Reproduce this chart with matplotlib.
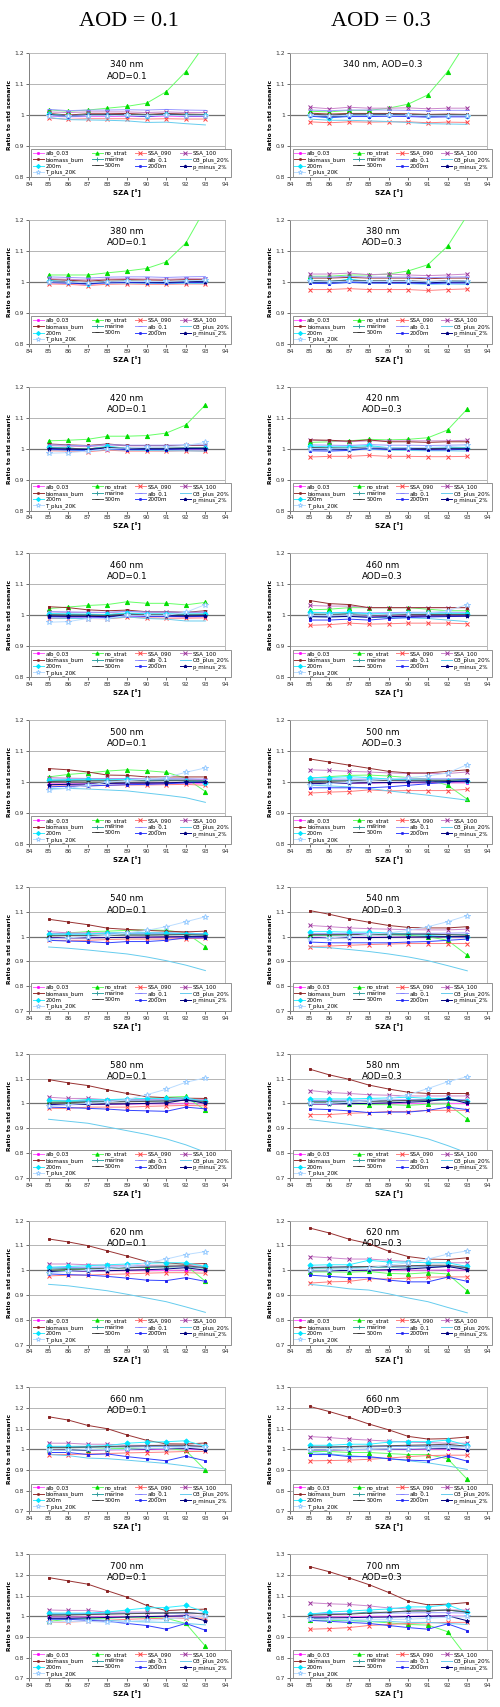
import matplotlib.pyplot as plt

# SZA values used in every panel
sza = [85, 86, 87, 88, 89, 90, 91, 92, 93]

series = ["alb_0.03", "no_strat", "SSA_090", "SSA_100", "biomass_burn", "marine",
          "alb_0.1", "O3_plus_20%", "200m", "500m", "2000m", "p_minus_2%", "T_plus_20K"]

wavelengths = [340, 380, 420, 460, 500, 540, 580, 620, 660, 700]
aods = [0.1, 0.3]

# one table per panel: rows follow the order of `series`
w340_a01 = [
    [0.996, 0.994, 0.995, 0.995, 0.996, 0.995, 0.996, 0.995, 0.995],
    [1.017, 1.012, 1.016, 1.022, 1.028, 1.038, 1.075, 1.140, 1.230],
    [0.990, 0.986, 0.988, 0.988, 0.988, 0.987, 0.988, 0.987, 0.987],
    [1.010, 1.008, 1.010, 1.010, 1.010, 1.008, 1.010, 1.008, 1.008],
    [1.005, 1.000, 1.004, 1.004, 1.005, 1.002, 1.005, 1.003, 1.002],
    [1.002, 0.998, 1.000, 1.001, 1.001, 1.000, 1.002, 1.000, 1.000],
    [1.018, 1.014, 1.016, 1.016, 1.017, 1.016, 1.018, 1.016, 1.015],
    [0.992, 0.985, 0.984, 0.983, 0.981, 0.976, 0.977, 0.972, 0.968],
    [1.003, 0.997, 1.000, 1.000, 1.000, 0.998, 1.002, 1.000, 0.999],
    [1.001, 0.998, 1.001, 1.001, 1.002, 1.000, 1.003, 1.001, 1.000],
    [0.999, 0.995, 0.998, 0.998, 0.998, 0.996, 0.999, 0.997, 0.997],
    [1.000, 0.996, 0.999, 0.999, 0.999, 0.997, 1.000, 0.998, 0.998],
    [0.998, 0.996, 0.998, 0.998, 0.999, 0.998, 0.999, 0.998, 0.998],
]
w340_a03 = [
    [0.998, 0.996, 0.998, 0.998, 0.998, 0.997, 0.996, 0.997, 0.997],
    [1.012, 1.010, 1.015, 1.015, 1.022, 1.035, 1.065, 1.140, 1.240],
    [0.978, 0.975, 0.978, 0.977, 0.978, 0.978, 0.975, 0.977, 0.976],
    [1.025, 1.020, 1.025, 1.022, 1.022, 1.023, 1.020, 1.022, 1.022],
    [1.006, 1.003, 1.005, 1.005, 1.005, 1.004, 1.002, 1.003, 1.002],
    [1.002, 0.998, 1.001, 1.001, 1.002, 1.001, 0.999, 1.000, 1.000],
    [1.016, 1.014, 1.016, 1.016, 1.016, 1.015, 1.014, 1.015, 1.015],
    [0.987, 0.983, 0.983, 0.981, 0.979, 0.976, 0.972, 0.971, 0.970],
    [1.000, 0.990, 0.998, 0.998, 1.000, 1.000, 0.996, 0.998, 0.998],
    [1.003, 1.000, 1.003, 1.003, 1.003, 1.002, 1.000, 1.001, 1.000],
    [0.996, 0.992, 0.995, 0.995, 0.996, 0.995, 0.993, 0.994, 0.994],
    [1.000, 0.995, 0.999, 0.999, 1.000, 0.999, 0.997, 0.998, 0.998],
    [0.999, 0.997, 0.999, 0.999, 0.999, 0.999, 0.998, 0.998, 0.998],
]
w380_a01 = [
    [0.997, 0.995, 0.992, 0.996, 0.997, 0.996, 0.996, 0.997, 0.997],
    [1.022, 1.022, 1.022, 1.029, 1.035, 1.043, 1.064, 1.125, 1.237],
    [0.993, 0.992, 0.988, 0.992, 0.993, 0.992, 0.992, 0.993, 0.993],
    [1.010, 1.008, 1.006, 1.009, 1.010, 1.009, 1.008, 1.010, 1.010],
    [1.007, 1.005, 1.002, 1.006, 1.007, 1.006, 1.005, 1.007, 1.007],
    [1.002, 1.000, 0.997, 1.001, 1.002, 1.001, 1.000, 1.002, 1.002],
    [1.016, 1.014, 1.012, 1.015, 1.016, 1.016, 1.014, 1.016, 1.017],
    [0.998, 0.996, 0.993, 0.996, 0.996, 0.995, 0.994, 0.995, 0.994],
    [1.004, 1.000, 0.994, 1.000, 1.001, 1.000, 0.999, 1.001, 1.001],
    [1.002, 1.000, 0.996, 1.001, 1.002, 1.001, 1.000, 1.002, 1.002],
    [0.998, 0.996, 0.993, 0.997, 0.998, 0.997, 0.996, 0.998, 0.998],
    [1.000, 0.998, 0.995, 0.999, 1.000, 0.999, 0.998, 1.000, 1.000],
    [1.000, 0.999, 0.997, 1.000, 1.001, 1.001, 1.001, 1.003, 1.005],
]
w380_a03 = [
    [0.999, 0.997, 1.000, 0.998, 0.998, 0.998, 0.996, 0.998, 0.998],
    [1.018, 1.018, 1.022, 1.022, 1.025, 1.035, 1.055, 1.115, 1.215],
    [0.975, 0.975, 0.978, 0.975, 0.975, 0.975, 0.972, 0.975, 0.977],
    [1.025, 1.025, 1.028, 1.023, 1.025, 1.022, 1.020, 1.022, 1.025],
    [1.012, 1.012, 1.014, 1.012, 1.012, 1.012, 1.010, 1.012, 1.012],
    [1.003, 1.001, 1.006, 1.002, 1.002, 1.002, 1.000, 1.002, 1.002],
    [1.016, 1.015, 1.018, 1.015, 1.015, 1.015, 1.013, 1.015, 1.016],
    [0.998, 0.996, 0.998, 0.996, 0.995, 0.994, 0.992, 0.993, 0.992],
    [1.005, 1.000, 1.008, 1.002, 1.001, 1.001, 0.998, 1.000, 1.000],
    [1.004, 1.002, 1.005, 1.003, 1.003, 1.003, 1.001, 1.003, 1.003],
    [0.995, 0.994, 0.998, 0.996, 0.996, 0.996, 0.994, 0.996, 0.996],
    [0.999, 0.998, 1.002, 0.999, 0.999, 0.999, 0.997, 0.999, 0.999],
    [1.001, 1.000, 1.002, 1.001, 1.001, 1.001, 1.000, 1.002, 1.003],
]
w420_a01 = [
    [0.996, 0.995, 0.993, 0.997, 0.995, 0.995, 0.995, 0.996, 0.996],
    [1.025, 1.027, 1.030, 1.040, 1.040, 1.042, 1.050, 1.076, 1.141],
    [0.993, 0.992, 0.990, 0.995, 0.992, 0.992, 0.992, 0.993, 0.992],
    [1.010, 1.008, 1.006, 1.012, 1.009, 1.009, 1.009, 1.010, 1.010],
    [1.015, 1.012, 1.010, 1.015, 1.010, 1.010, 1.010, 1.010, 1.010],
    [1.003, 1.001, 0.999, 1.005, 1.001, 1.001, 1.001, 1.002, 1.002],
    [1.012, 1.011, 1.009, 1.013, 1.011, 1.011, 1.011, 1.012, 1.012],
    [0.996, 0.995, 0.993, 0.997, 0.995, 0.994, 0.993, 0.993, 0.992],
    [1.005, 1.002, 0.998, 1.008, 1.001, 1.000, 1.000, 1.002, 1.002],
    [1.002, 1.001, 0.999, 1.004, 1.001, 1.001, 1.001, 1.002, 1.002],
    [0.998, 0.996, 0.995, 1.000, 0.997, 0.997, 0.997, 0.999, 0.999],
    [1.000, 0.998, 0.997, 1.002, 0.999, 0.999, 0.999, 1.000, 1.000],
    [0.985, 0.987, 0.992, 1.000, 1.002, 1.004, 1.006, 1.010, 1.020],
]
w420_a03 = [
    [0.998, 0.997, 0.996, 0.999, 0.997, 0.997, 0.996, 0.997, 0.997],
    [1.020, 1.022, 1.025, 1.030, 1.028, 1.030, 1.035, 1.060, 1.128],
    [0.973, 0.975, 0.975, 0.978, 0.975, 0.975, 0.974, 0.974, 0.975],
    [1.028, 1.025, 1.022, 1.025, 1.025, 1.025, 1.025, 1.025, 1.027],
    [1.028, 1.027, 1.024, 1.028, 1.022, 1.022, 1.020, 1.022, 1.022],
    [1.004, 1.002, 1.002, 1.006, 1.002, 1.002, 1.001, 1.002, 1.002],
    [1.012, 1.011, 1.010, 1.013, 1.011, 1.011, 1.010, 1.011, 1.012],
    [0.997, 0.996, 0.995, 0.998, 0.995, 0.994, 0.993, 0.993, 0.992],
    [1.008, 1.006, 1.006, 1.010, 1.003, 1.003, 1.002, 1.002, 1.003],
    [1.003, 1.002, 1.001, 1.004, 1.001, 1.001, 1.000, 1.001, 1.001],
    [0.993, 0.992, 0.994, 1.000, 0.997, 0.998, 0.996, 0.996, 0.998],
    [0.998, 0.997, 0.997, 1.002, 0.999, 0.999, 0.998, 0.999, 0.999],
    [1.000, 0.999, 1.000, 1.003, 1.002, 1.003, 1.004, 1.006, 1.010],
]
w460_a01 = [
    [0.996, 0.995, 0.995, 0.994, 0.998, 0.996, 0.996, 0.995, 0.996],
    [1.022, 1.027, 1.032, 1.035, 1.044, 1.039, 1.039, 1.034, 1.042],
    [0.990, 0.990, 0.990, 0.989, 0.994, 0.992, 0.991, 0.991, 0.992],
    [1.012, 1.010, 1.010, 1.009, 1.013, 1.010, 1.010, 1.009, 1.010],
    [1.028, 1.025, 1.018, 1.015, 1.017, 1.012, 1.012, 1.010, 1.015],
    [1.004, 1.003, 1.003, 1.002, 1.006, 1.004, 1.004, 1.003, 1.004],
    [1.012, 1.011, 1.010, 1.010, 1.013, 1.011, 1.011, 1.010, 1.011],
    [0.992, 0.990, 0.990, 0.990, 0.995, 0.990, 0.988, 0.982, 0.982],
    [1.006, 1.005, 1.004, 1.003, 1.008, 1.005, 1.005, 1.005, 1.005],
    [1.002, 1.001, 1.001, 1.000, 1.004, 1.002, 1.002, 1.001, 1.002],
    [0.996, 0.995, 0.995, 0.994, 0.999, 0.997, 0.997, 0.996, 0.997],
    [0.998, 0.997, 0.997, 0.996, 1.001, 0.999, 0.999, 0.998, 0.999],
    [0.978, 0.980, 0.990, 0.990, 1.000, 1.000, 1.000, 1.010, 1.035],
]
w460_a03 = [
    [0.998, 0.997, 0.998, 0.996, 0.998, 0.998, 0.998, 0.998, 0.998],
    [1.018, 1.020, 1.025, 1.025, 1.025, 1.025, 1.020, 1.015, 1.015],
    [0.968, 0.970, 0.975, 0.972, 0.973, 0.975, 0.975, 0.975, 0.973],
    [1.032, 1.030, 1.030, 1.025, 1.025, 1.025, 1.025, 1.025, 1.025],
    [1.048, 1.038, 1.035, 1.025, 1.025, 1.025, 1.025, 1.025, 1.025],
    [1.005, 1.004, 1.006, 1.003, 1.003, 1.004, 1.004, 1.004, 1.004],
    [1.010, 1.009, 1.010, 1.008, 1.009, 1.010, 1.010, 1.010, 1.010],
    [0.996, 0.995, 0.996, 0.994, 0.993, 0.992, 0.990, 0.985, 0.980],
    [1.010, 1.008, 1.010, 1.005, 1.006, 1.007, 1.007, 1.007, 1.006],
    [1.003, 1.002, 1.004, 1.001, 1.002, 1.003, 1.003, 1.003, 1.003],
    [0.985, 0.985, 0.988, 0.985, 0.990, 0.993, 0.995, 0.996, 0.998],
    [0.996, 0.995, 0.997, 0.994, 0.996, 0.997, 0.998, 0.998, 0.998],
    [1.000, 1.000, 1.001, 1.002, 1.004, 1.006, 1.008, 1.015, 1.035],
]
w500_a01 = [
    [0.995, 0.995, 0.995, 0.996, 0.996, 0.996, 0.997, 0.997, 0.995],
    [1.017, 1.025, 1.030, 1.036, 1.040, 1.037, 1.032, 1.013, 0.970],
    [0.988, 0.988, 0.988, 0.990, 0.991, 0.991, 0.992, 0.993, 0.990],
    [1.015, 1.013, 1.012, 1.012, 1.012, 1.010, 1.010, 1.010, 1.008],
    [1.044, 1.040, 1.033, 1.023, 1.022, 1.017, 1.017, 1.017, 1.017],
    [1.005, 1.006, 1.006, 1.006, 1.007, 1.006, 1.007, 1.007, 1.005],
    [1.010, 1.010, 1.010, 1.010, 1.011, 1.010, 1.011, 1.011, 1.010],
    [0.980, 0.980, 0.978, 0.975, 0.972, 0.965, 0.958, 0.950, 0.935],
    [1.007, 1.008, 1.010, 1.008, 1.009, 1.006, 1.006, 1.005, 0.998],
    [1.002, 1.003, 1.004, 1.004, 1.005, 1.004, 1.005, 1.005, 1.003],
    [0.985, 0.987, 0.988, 0.990, 0.992, 0.993, 0.995, 0.998, 1.000],
    [0.992, 0.993, 0.994, 0.996, 0.997, 0.997, 0.998, 1.000, 1.000],
    [0.975, 0.980, 0.990, 1.000, 1.005, 1.010, 1.015, 1.032, 1.046],
]
w500_a03 = [
    [0.996, 0.996, 0.997, 0.997, 0.998, 0.998, 0.998, 0.998, 0.998],
    [1.013, 1.018, 1.022, 1.023, 1.020, 1.015, 1.010, 0.990, 0.945],
    [0.965, 0.968, 0.970, 0.975, 0.972, 0.973, 0.973, 0.973, 0.977],
    [1.040, 1.038, 1.035, 1.033, 1.030, 1.028, 1.028, 1.028, 1.033],
    [1.075, 1.065, 1.055, 1.045, 1.035, 1.030, 1.030, 1.035, 1.040],
    [1.005, 1.006, 1.006, 1.007, 1.007, 1.007, 1.007, 1.007, 1.008],
    [1.010, 1.010, 1.010, 1.010, 1.011, 1.011, 1.011, 1.011, 1.012],
    [0.990, 0.988, 0.985, 0.980, 0.972, 0.965, 0.958, 0.950, 0.942],
    [1.015, 1.015, 1.018, 1.015, 1.010, 1.008, 1.005, 1.005, 1.005],
    [1.002, 1.003, 1.004, 1.005, 1.006, 1.006, 1.006, 1.006, 1.008],
    [0.982, 0.982, 0.982, 0.982, 0.985, 0.990, 0.995, 1.000, 1.005],
    [0.995, 0.996, 0.997, 0.998, 0.999, 1.000, 1.001, 1.002, 1.003],
    [0.990, 0.995, 1.000, 1.005, 1.010, 1.015, 1.020, 1.030, 1.057],
]
w540_a01 = [
    [0.995, 0.995, 0.996, 0.996, 0.997, 0.997, 0.998, 0.998, 0.997],
    [1.010, 1.015, 1.020, 1.022, 1.025, 1.027, 1.025, 1.015, 0.960],
    [0.985, 0.985, 0.985, 0.988, 0.990, 0.990, 0.990, 0.992, 0.993],
    [1.020, 1.015, 1.015, 1.015, 1.015, 1.015, 1.015, 1.015, 1.010],
    [1.070, 1.059, 1.048, 1.034, 1.029, 1.025, 1.022, 1.019, 1.022],
    [1.005, 1.006, 1.006, 1.006, 1.007, 1.007, 1.008, 1.008, 1.006],
    [1.012, 1.012, 1.012, 1.012, 1.013, 1.013, 1.013, 1.013, 1.012],
    [0.958, 0.953, 0.946, 0.938, 0.930, 0.918, 0.903, 0.885, 0.863],
    [1.010, 1.010, 1.010, 1.015, 1.015, 1.015, 1.015, 1.012, 1.010],
    [1.003, 1.004, 1.004, 1.005, 1.006, 1.006, 1.007, 1.008, 1.006],
    [0.985, 0.982, 0.980, 0.975, 0.980, 0.980, 0.985, 0.995, 0.995],
    [0.995, 0.995, 0.995, 0.996, 0.997, 0.998, 0.999, 1.000, 1.000],
    [0.990, 0.995, 1.000, 1.005, 1.015, 1.025, 1.040, 1.060, 1.080],
]
w540_a03 = [
    [0.997, 0.997, 0.997, 0.998, 0.998, 0.998, 0.999, 0.999, 0.998],
    [1.005, 1.005, 1.008, 1.010, 1.008, 1.005, 1.000, 0.985, 0.925],
    [0.960, 0.962, 0.965, 0.968, 0.970, 0.972, 0.972, 0.972, 0.972],
    [1.045, 1.040, 1.035, 1.032, 1.030, 1.028, 1.027, 1.027, 1.030],
    [1.105, 1.090, 1.072, 1.058, 1.045, 1.037, 1.035, 1.035, 1.040],
    [1.006, 1.006, 1.007, 1.007, 1.007, 1.008, 1.008, 1.008, 1.008],
    [1.012, 1.012, 1.012, 1.013, 1.013, 1.013, 1.013, 1.014, 1.015],
    [0.958, 0.955, 0.948, 0.940, 0.930, 0.918, 0.903, 0.883, 0.862],
    [1.020, 1.020, 1.018, 1.018, 1.015, 1.010, 1.005, 1.000, 1.000],
    [1.008, 1.008, 1.008, 1.009, 1.010, 1.010, 1.010, 1.008, 1.005],
    [0.978, 0.975, 0.975, 0.975, 0.975, 0.978, 0.980, 0.985, 0.990],
    [0.995, 0.995, 0.996, 0.996, 0.997, 0.998, 0.999, 1.000, 1.000],
    [0.990, 0.995, 1.000, 1.010, 1.015, 1.025, 1.040, 1.060, 1.085],
]
w580_a01 = [
    [0.995, 0.995, 0.996, 0.996, 0.997, 0.998, 0.998, 0.999, 0.998],
    [1.010, 1.008, 1.015, 1.012, 1.015, 1.020, 1.025, 1.028, 0.972],
    [0.980, 0.980, 0.985, 0.985, 0.985, 0.988, 0.990, 0.992, 0.990],
    [1.025, 1.020, 1.020, 1.015, 1.015, 1.015, 1.015, 1.015, 1.015],
    [1.096, 1.083, 1.072, 1.055, 1.040, 1.027, 1.023, 1.021, 1.020],
    [1.005, 1.006, 1.008, 1.008, 1.009, 1.010, 1.010, 1.012, 1.005],
    [1.012, 1.012, 1.012, 1.013, 1.013, 1.014, 1.014, 1.015, 1.012],
    [0.936, 0.928, 0.920, 0.905, 0.890, 0.875, 0.857, 0.833, 0.803],
    [1.012, 1.010, 1.015, 1.015, 1.018, 1.020, 1.020, 1.022, 1.008],
    [1.002, 1.003, 1.005, 1.006, 1.007, 1.008, 1.010, 1.012, 1.008],
    [0.985, 0.983, 0.980, 0.977, 0.972, 0.970, 0.968, 0.985, 0.978],
    [0.995, 0.995, 0.996, 0.997, 0.998, 1.000, 1.002, 1.015, 1.000],
    [0.990, 0.995, 1.000, 1.005, 1.015, 1.035, 1.057, 1.085, 1.103],
]
w580_a03 = [
    [0.997, 0.997, 0.998, 0.998, 0.999, 0.999, 1.000, 1.000, 0.999],
    [1.000, 1.000, 0.998, 0.995, 0.995, 0.992, 0.997, 0.998, 0.937],
    [0.955, 0.955, 0.960, 0.963, 0.967, 0.967, 0.972, 0.972, 0.972],
    [1.052, 1.044, 1.040, 1.035, 1.033, 1.030, 1.030, 1.030, 1.030],
    [1.138, 1.115, 1.097, 1.074, 1.058, 1.045, 1.040, 1.040, 1.040],
    [1.008, 1.008, 1.009, 1.010, 1.010, 1.011, 1.012, 1.012, 1.010],
    [1.012, 1.012, 1.013, 1.013, 1.014, 1.015, 1.015, 1.016, 1.015],
    [0.935, 0.925, 0.915, 0.903, 0.890, 0.875, 0.857, 0.830, 0.800],
    [1.018, 1.018, 1.018, 1.020, 1.022, 1.025, 1.020, 1.020, 1.008],
    [1.005, 1.005, 1.006, 1.008, 1.010, 1.012, 1.014, 1.016, 1.010],
    [0.978, 0.975, 0.970, 0.963, 0.965, 0.965, 0.972, 0.985, 0.975],
    [0.998, 0.998, 0.999, 1.000, 1.002, 1.005, 1.008, 1.020, 1.000],
    [1.000, 1.000, 1.005, 1.010, 1.020, 1.035, 1.060, 1.087, 1.108],
]
w620_a01 = [
    [0.995, 0.996, 0.996, 0.997, 0.998, 0.998, 0.999, 1.000, 0.999],
    [0.995, 1.000, 1.005, 1.008, 1.010, 1.015, 1.020, 1.020, 0.955],
    [0.977, 0.980, 0.980, 0.983, 0.985, 0.988, 0.990, 0.990, 0.988],
    [1.025, 1.025, 1.022, 1.020, 1.020, 1.020, 1.020, 1.020, 1.015],
    [1.126, 1.114, 1.099, 1.078, 1.057, 1.035, 1.030, 1.024, 1.027],
    [1.005, 1.007, 1.008, 1.009, 1.010, 1.012, 1.013, 1.014, 1.008],
    [1.010, 1.011, 1.012, 1.013, 1.013, 1.014, 1.015, 1.015, 1.012],
    [0.943, 0.937, 0.927, 0.917, 0.903, 0.888, 0.873, 0.852, 0.830],
    [1.012, 1.015, 1.018, 1.022, 1.025, 1.028, 1.030, 1.030, 1.015],
    [1.000, 1.003, 1.005, 1.007, 1.010, 1.012, 1.015, 1.018, 1.010],
    [0.985, 0.982, 0.980, 0.975, 0.968, 0.960, 0.958, 0.970, 0.955],
    [0.995, 0.996, 0.997, 0.998, 1.000, 1.002, 1.005, 1.010, 1.000],
    [0.990, 0.995, 1.000, 1.005, 1.015, 1.030, 1.045, 1.063, 1.075],
]
w620_a03 = [
    [0.997, 0.997, 0.998, 0.999, 0.999, 1.000, 1.000, 1.001, 1.000],
    [0.993, 0.993, 0.992, 0.995, 0.987, 0.985, 0.990, 0.985, 0.917],
    [0.948, 0.953, 0.955, 0.965, 0.965, 0.968, 0.972, 0.973, 0.973],
    [1.055, 1.050, 1.045, 1.045, 1.040, 1.035, 1.030, 1.030, 1.030],
    [1.170, 1.150, 1.125, 1.107, 1.077, 1.055, 1.045, 1.043, 1.050],
    [1.008, 1.009, 1.010, 1.011, 1.012, 1.013, 1.014, 1.015, 1.010],
    [1.012, 1.013, 1.014, 1.015, 1.015, 1.016, 1.017, 1.017, 1.015],
    [0.943, 0.935, 0.925, 0.920, 0.905, 0.888, 0.873, 0.850, 0.828],
    [1.020, 1.022, 1.022, 1.040, 1.033, 1.033, 1.030, 1.030, 1.015],
    [1.010, 1.012, 1.014, 1.015, 1.016, 1.018, 1.020, 1.020, 1.010],
    [0.980, 0.975, 0.970, 0.970, 0.960, 0.953, 0.953, 0.972, 0.955],
    [0.998, 0.998, 0.999, 1.000, 1.002, 1.005, 1.010, 1.015, 1.002],
    [1.000, 1.000, 1.005, 1.010, 1.020, 1.030, 1.045, 1.065, 1.078],
]
w660_a01 = [
    [0.996, 0.996, 0.997, 0.998, 0.998, 0.999, 1.000, 1.000, 0.999],
    [0.995, 0.995, 0.998, 1.003, 1.005, 1.005, 1.005, 0.995, 0.900],
    [0.975, 0.975, 0.978, 0.980, 0.983, 0.985, 0.987, 0.990, 0.990],
    [1.030, 1.030, 1.025, 1.025, 1.020, 1.020, 1.020, 1.020, 1.020],
    [1.158, 1.142, 1.116, 1.100, 1.070, 1.044, 1.027, 1.026, 1.031],
    [1.008, 1.008, 1.010, 1.012, 1.012, 1.014, 1.015, 1.016, 1.012],
    [1.012, 1.012, 1.013, 1.014, 1.015, 1.015, 1.016, 1.016, 1.014],
    [0.975, 0.970, 0.958, 0.955, 0.948, 0.940, 0.932, 0.920, 0.905],
    [1.015, 1.015, 1.015, 1.018, 1.030, 1.035, 1.037, 1.042, 1.015],
    [1.010, 1.010, 1.012, 1.014, 1.016, 1.018, 1.020, 1.020, 1.012],
    [0.985, 0.985, 0.975, 0.978, 0.965, 0.955, 0.945, 0.967, 0.945],
    [0.995, 0.996, 0.997, 0.999, 1.000, 1.002, 1.004, 1.006, 0.998],
    [0.995, 0.995, 1.000, 1.000, 1.000, 1.005, 1.005, 1.010, 1.010],
]
w660_a03 = [
    [0.997, 0.997, 0.998, 0.999, 0.999, 1.000, 1.001, 1.001, 1.000],
    [0.990, 0.990, 0.985, 0.985, 0.980, 0.975, 0.975, 0.955, 0.855],
    [0.945, 0.946, 0.948, 0.952, 0.958, 0.965, 0.970, 0.972, 0.972],
    [1.062, 1.057, 1.050, 1.045, 1.040, 1.035, 1.033, 1.030, 1.030],
    [1.208, 1.183, 1.155, 1.123, 1.095, 1.063, 1.050, 1.052, 1.060],
    [1.010, 1.010, 1.012, 1.013, 1.014, 1.015, 1.016, 1.017, 1.014],
    [1.012, 1.012, 1.013, 1.014, 1.015, 1.016, 1.017, 1.017, 1.015],
    [0.985, 0.978, 0.970, 0.963, 0.955, 0.945, 0.935, 0.920, 0.903],
    [1.020, 1.020, 1.025, 1.025, 1.035, 1.038, 1.037, 1.045, 1.020],
    [1.012, 1.012, 1.014, 1.016, 1.018, 1.020, 1.022, 1.025, 1.015],
    [0.975, 0.975, 0.965, 0.965, 0.955, 0.948, 0.945, 0.968, 0.943],
    [0.998, 0.998, 0.999, 1.000, 1.001, 1.002, 1.004, 1.006, 0.998],
    [0.998, 0.998, 1.000, 1.000, 1.002, 1.004, 1.006, 1.010, 1.012],
]
w700_a01 = [
    [0.996, 0.996, 0.997, 0.998, 0.998, 0.999, 1.000, 1.000, 0.999],
    [0.975, 0.985, 0.990, 0.990, 0.995, 0.995, 0.990, 0.965, 0.855],
    [0.970, 0.972, 0.975, 0.980, 0.985, 0.988, 0.990, 0.990, 0.990],
    [1.030, 1.028, 1.028, 1.020, 1.020, 1.020, 1.015, 1.010, 1.015],
    [1.187, 1.171, 1.155, 1.123, 1.092, 1.052, 1.027, 1.032, 1.034],
    [1.008, 1.008, 1.010, 1.012, 1.013, 1.014, 1.015, 1.016, 1.012],
    [1.012, 1.012, 1.013, 1.014, 1.015, 1.015, 1.016, 1.016, 1.014],
    [0.990, 0.990, 0.985, 0.980, 0.975, 0.972, 0.970, 0.965, 0.958],
    [1.015, 1.015, 1.015, 1.020, 1.030, 1.040, 1.042, 1.052, 1.020],
    [1.005, 1.006, 1.008, 1.010, 1.012, 1.014, 1.016, 1.018, 1.010],
    [0.985, 0.985, 0.980, 0.975, 0.965, 0.955, 0.937, 0.965, 0.932],
    [0.990, 0.990, 0.992, 0.994, 0.996, 0.998, 1.000, 1.002, 0.978],
    [0.970, 0.975, 0.975, 0.970, 0.975, 0.980, 0.985, 0.995, 1.000],
]
w700_a03 = [
    [0.997, 0.997, 0.998, 0.999, 0.999, 1.000, 1.001, 1.001, 1.000],
    [0.980, 0.980, 0.978, 0.975, 0.968, 0.960, 0.957, 0.925, 0.800],
    [0.937, 0.940, 0.945, 0.955, 0.960, 0.965, 0.968, 0.970, 0.970],
    [1.065, 1.060, 1.057, 1.050, 1.040, 1.035, 1.030, 1.030, 1.030],
    [1.240, 1.215, 1.185, 1.153, 1.115, 1.073, 1.055, 1.058, 1.066],
    [1.010, 1.010, 1.012, 1.020, 1.018, 1.025, 1.028, 1.030, 1.018],
    [1.012, 1.012, 1.013, 1.014, 1.015, 1.016, 1.017, 1.017, 1.015],
    [0.990, 0.985, 0.980, 0.975, 0.975, 0.970, 0.970, 0.965, 0.960],
    [1.010, 1.020, 1.025, 1.030, 1.035, 1.045, 1.045, 1.055, 1.020],
    [1.005, 1.008, 1.010, 1.015, 1.020, 1.025, 1.025, 1.030, 1.020],
    [0.980, 0.975, 0.970, 0.965, 0.955, 0.945, 0.937, 0.963, 0.930],
    [0.992, 0.992, 0.993, 0.995, 0.996, 0.998, 1.000, 1.002, 0.978],
    [0.985, 0.985, 0.985, 0.985, 0.985, 0.985, 0.990, 0.995, 1.000],
]

panels = [
    (w340_a01, w340_a03), (w380_a01, w380_a03), (w420_a01, w420_a03),
    (w460_a01, w460_a03), (w500_a01, w500_a03), (w540_a01, w540_a03),
    (w580_a01, w580_a03), (w620_a01, w620_a03), (w660_a01, w660_a03),
    (w700_a01, w700_a03),
]

# y range of each row
y_limits = [(0.8, 1.2)] * 5 + [(0.7, 1.2)] * 3 + [(0.7, 1.3)] * 2

# (line colour, marker, marker colour, marker size)
styles = [
    ("#FF66FF", "s", "#FF00FF", 1.5),
    ("#66FF66", "^", "#00DD00", 3.0),
    ("#FF8080", "x", "#FF4040", 3.0),
    ("#CC88CC", "x", "#993399", 3.2),
    ("#993333", "s", "#882222", 1.4),
    ("#33AAAA", "+", "#339999", 3.2),
    ("#9999FF", "_", "#8080FF", 3.0),
    ("#66CCEE", "", "#66CCEE", 0),
    ("#33EEFF", "D", "#00E5FF", 2.6),
    ("#555555", "_", "#333333", 3.0),
    ("#3344FF", "s", "#2222EE", 1.5),
    ("#000080", "*", "#000080", 2.8),
    ("#BBDDFF", "*", "#99CCFF", 4.2),
]

W, H = 500, 1707
fig = plt.figure(figsize=(W / 100, H / 100), dpi=100)
fig.patch.set_facecolor("white")

for j, aod in enumerate(aods):
    fig.text((129 if j == 0 else 381) / W, 1 - 21 / H, f"AOD = {aod}",
             ha="center", va="center", fontsize=16, family="Liberation Serif")

legend_order = [0, 4, 8, 12, 1, 5, 9, 2, 6, 10, 3, 7, 11]

for i, wl in enumerate(wavelengths):
    top = 53 + 166.8 * i
    h = 124
    for j, aod in enumerate(aods):
        left, w = (29, 196) if j == 0 else (290, 197)
        ax = fig.add_axes([left / W, 1 - (top + h) / H, w / W, h / H])
        data = panels[i][j]
        handles = []
        for k, name in enumerate(series):
            lc, mk, mc, ms = styles[k]
            mfc = "white" if name == "T_plus_20K" else mc
            ln, = ax.plot(sza, data[k], color=lc, lw=0.7, marker=mk if mk else None,
                          ms=ms, mec=mc, mfc=mfc, mew=0.7, label=name, zorder=3)
            handles.append(ln)
        y0, y1 = y_limits[i]
        ax.set_xlim(84, 94)
        ax.set_ylim(y0, y1)
        ax.set_xticks(range(84, 95))
        yt = [round(y0 + 0.1 * n, 1) for n in range(int(round((y1 - y0) / 0.1)) + 1)]
        ax.set_yticks(yt)
        ax.set_yticklabels([f"{v:g}" for v in yt])
        for v in yt[1:]:
            if abs(v - 1.0) < 1e-6:
                ax.axhline(v, color="#707070", lw=0.9, zorder=1)
            elif v < y1 - 1e-6:
                ax.axhline(v, color="#A8A8A8", lw=0.6, zorder=1)
        ax.tick_params(labelsize=4.3, length=2, width=0.5, pad=1.5, colors="#333333")
        for s in ("left", "bottom"):
            ax.spines[s].set_color("#808080")
            ax.spines[s].set_linewidth(0.7)
        for s in ("top", "right"):
            ax.spines[s].set_color("#B0B0B0")
            ax.spines[s].set_linewidth(0.6)
            ax.spines[s].set_linestyle((0, (1, 1)))
        ax.set_xlabel("SZA [°]", fontsize=5, fontweight="bold", labelpad=1.5)
        ax.set_ylabel("Ratio to std scenaric", fontsize=4.3, fontweight="bold", labelpad=2)

        if i == 0 and j == 1:
            label = f"{wl} nm, AOD={aod}"
        else:
            label = f"{wl} nm\nAOD={aod}"
        ax.text(0.5 if j == 0 else 0.47, 0.94, label, transform=ax.transAxes,
                ha="center", va="top", fontsize=6.3, linespacing=1.3)

        leg = ax.legend([handles[n] for n in legend_order],
                        [series[n] for n in legend_order],
                        loc="lower center", bbox_to_anchor=(0.52, 0.0), ncol=4,
                        fontsize=4.0, handlelength=2.0, handletextpad=0.3,
                        columnspacing=1.4, labelspacing=0.15, borderpad=0.3,
                        borderaxespad=0.0, fancybox=False, framealpha=1,
                        markerscale=0.8)
        leg.get_frame().set_edgecolor("#808080")
        leg.get_frame().set_linewidth(0.6)
        leg.set_zorder(5)

fig.savefig("out.png", dpi=100, facecolor="white")
